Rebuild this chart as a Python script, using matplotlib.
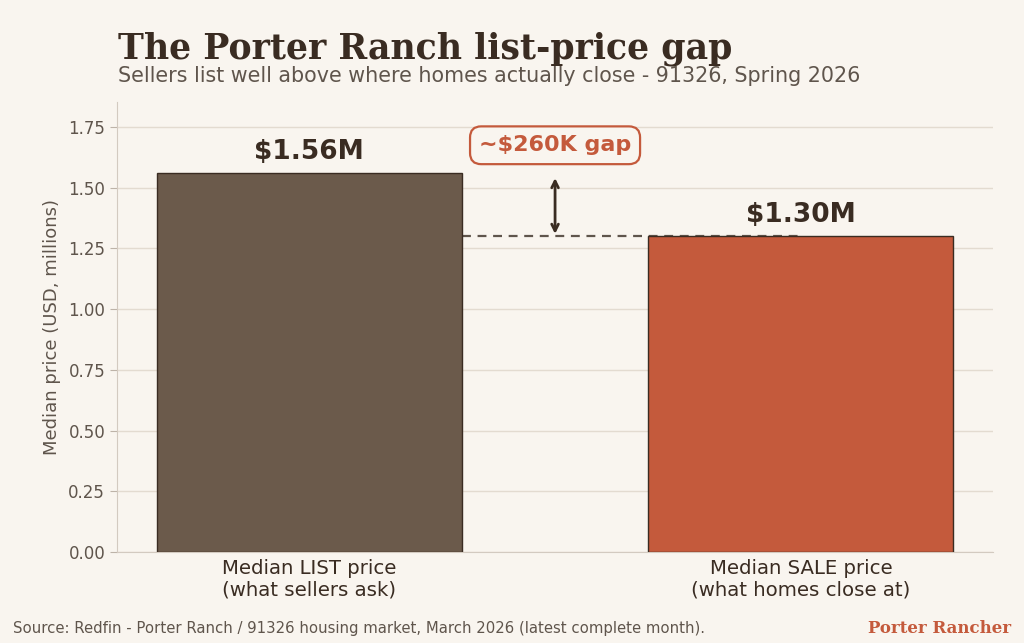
import matplotlib.pyplot as plt

categories = ["Median LIST price\n(what sellers ask)", "Median SALE price\n(what homes close at)"]
values = [1.56, 1.30]
value_labels = ["$1.56M", "$1.30M"]
gap_label = "~$260K gap"
bar_colors = ["#6B5A4B", "#C45A3C"]

bg = "#F9F5EF"
dark = "#3A2C22"
muted = "#5F554C"
accent = "#C45A3C"

fig = plt.figure(figsize=(10.24, 6.43), dpi=100, facecolor=bg)
ax = fig.add_axes([0.1143, 0.1415, 0.8555, 0.6998])
ax.set_facecolor(bg)

x = range(len(values))
ax.bar(x, values, width=0.62, color=bar_colors, edgecolor=dark, linewidth=1.0, zorder=3)
ax.set_ylim(0, 1.853)

for xi, v, lab in zip(x, values, value_labels):
    ax.text(xi, v + 0.035, lab, ha="center", va="bottom", fontsize=19,
            fontweight="bold", color=dark, zorder=4)

# dashed reference line at the sale price
ax.plot([0.31, 1.0], [values[1], values[1]], ls=(0, (4, 3)), lw=1.6, color=muted, zorder=2)

# gap arrow
ax.annotate("", xy=(0.5, values[0] - 0.02), xytext=(0.5, values[1] + 0.01),
            arrowprops=dict(arrowstyle="<->", color=dark, lw=2.0, mutation_scale=12,
                            shrinkA=0, shrinkB=0), zorder=4)
ax.text(0.5, 1.675, gap_label, ha="center", va="center", fontsize=16,
        fontweight="bold", color=accent, zorder=5,
        bbox=dict(boxstyle="round,pad=0.4,rounding_size=0.5", fc=bg, ec=accent, lw=1.6))

ax.set_xticks(list(x))
ax.set_xticklabels(categories, fontsize=14.2, color=dark)
ax.set_yticks([0, 0.25, 0.5, 0.75, 1.0, 1.25, 1.5, 1.75])
ax.set_yticklabels([f"{t:.2f}" for t in ax.get_yticks()], fontsize=12, color=muted)
ax.tick_params(axis="y", color="#BDB3A8", length=5)
ax.tick_params(axis="x", length=0, pad=5)
ax.set_ylabel("Median price (USD, millions)", fontsize=13, color=muted, labelpad=5)
ax.grid(axis="y", color="#E3DBD0", lw=1.0, zorder=0)
ax.set_axisbelow(True)
for s in ["top", "right"]:
    ax.spines[s].set_visible(False)
for s in ["left", "bottom"]:
    ax.spines[s].set_color("#D3CAC0")

fig.text(0.115, 0.924, "The Porter Ranch list-price gap", fontsize=25, fontweight="bold",
         family="DejaVu Serif", color=dark, va="center")
fig.text(0.115, 0.882, "Sellers list well above where homes actually close - 91326, Spring 2026",
         fontsize=14.9, color=muted, va="center")
fig.text(0.013, 0.023, "Source: Redfin - Porter Ranch / 91326 housing market, March 2026 (latest complete month).",
         fontsize=10.7, color=muted, va="center")
fig.text(0.987, 0.023, "Porter Rancher", fontsize=12, fontweight="bold", family="DejaVu Serif",
         color=accent, ha="right", va="center")

fig.savefig("out.png", dpi=100, facecolor=bg)
